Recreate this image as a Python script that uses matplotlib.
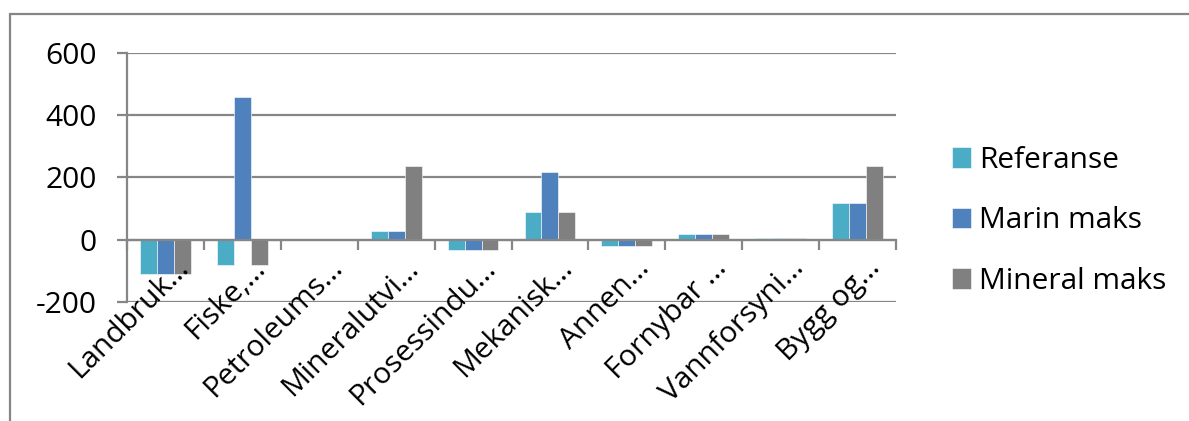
import numpy as np
import matplotlib
matplotlib.use("Agg")
import matplotlib.pyplot as plt
from matplotlib.patches import Rectangle
from matplotlib.transforms import ScaledTranslation

plt.rcParams['font.family'] = ['Open Sans', 'DejaVu Sans']

# data
categories = ['Landbruk…', 'Fiske,…', 'Petroleums…', 'Mineralutvi…', 'Prosessindu…',
              'Mekanisk…', 'Annen…', 'Fornybar …', 'Vannforsyni…', 'Bygg og…']
referanse = [-110, -80, 0, 27, -32, 88, -20, 18, 6, 118]
marin_maks = [-110, 460, 0, 27, -32, 218, -20, 18, 6, 118]
mineral_maks = [-110, -80, 0, 238, -32, 88, -20, 18, 6, 238]
series_names = ['Referanse', 'Marin maks', 'Mineral maks']
colors = ['#4BACC6', '#4F81BD', '#808080']
yticks = [-200, 0, 200, 400, 600]

W, H = 1189, 421
FS = 21.5
fig = plt.figure(figsize=(W / 100, H / 100), dpi=100)
ax = fig.add_axes([127 / W, 1 - 302 / H, (896 - 127) / W, (302 - 53) / H])

grid_c = '#868686'
x = np.arange(len(categories))
bw = 0.22
for i, (vals, name, c) in enumerate(zip([referanse, marin_maks, mineral_maks], series_names, colors)):
    ax.bar(x + (i - 1) * bw, vals, bw, color=c, label=name, edgecolor='white', linewidth=0.4, zorder=3)

ax.set_xlim(-0.5, len(categories) - 0.5)
ax.set_ylim(-200, 600)
ax.set_yticks(yticks)
ax.set_yticklabels([str(v) for v in yticks], fontsize=FS)
ax.yaxis.grid(True, color=grid_c, linewidth=1.6, zorder=1)
ax.set_axisbelow(True)

for s in ['top', 'right']:
    ax.spines[s].set_visible(False)
ax.spines['left'].set_color(grid_c)
ax.spines['left'].set_linewidth(1.6)
ax.spines['bottom'].set_position(('data', 0))
ax.spines['bottom'].set_color(grid_c)
ax.spines['bottom'].set_linewidth(1.6)
ax.spines['bottom'].set_zorder(4)

ax.set_xticks(np.arange(len(categories) + 1) - 0.5)
ax.set_xticklabels([])
ax.tick_params(axis='x', length=7.5, width=1.6, color=grid_c, direction='out')
ax.tick_params(axis='y', length=7, width=1.6, color=grid_c, pad=15)

# category labels at the bottom of the plot, rotated
shift = ScaledTranslation(24 / 100, 33 / 100, fig.dpi_scale_trans)
for xi, lab in zip(x, categories):
    ax.text(xi, 0, lab, transform=ax.get_xaxis_transform() + shift,
            rotation=45, rotation_mode='anchor', ha='right', va='baseline', fontsize=FS)

ax.legend(loc='center left', bbox_to_anchor=(952 / W, 1 - 221 / H), bbox_transform=fig.transFigure,
          frameon=False, fontsize=FS, handlelength=0.64, handleheight=0.68, handletextpad=0.28,
          labelspacing=1.05, borderpad=0, borderaxespad=0)

# outer chart border (cut off at right and bottom)
fig.patches.append(Rectangle((10 / W, -0.1), 1.2, 1.1 - 14 / H, transform=fig.transFigure,
                             fill=False, edgecolor=grid_c, linewidth=1.6))

fig.savefig('out.png', dpi=100)
